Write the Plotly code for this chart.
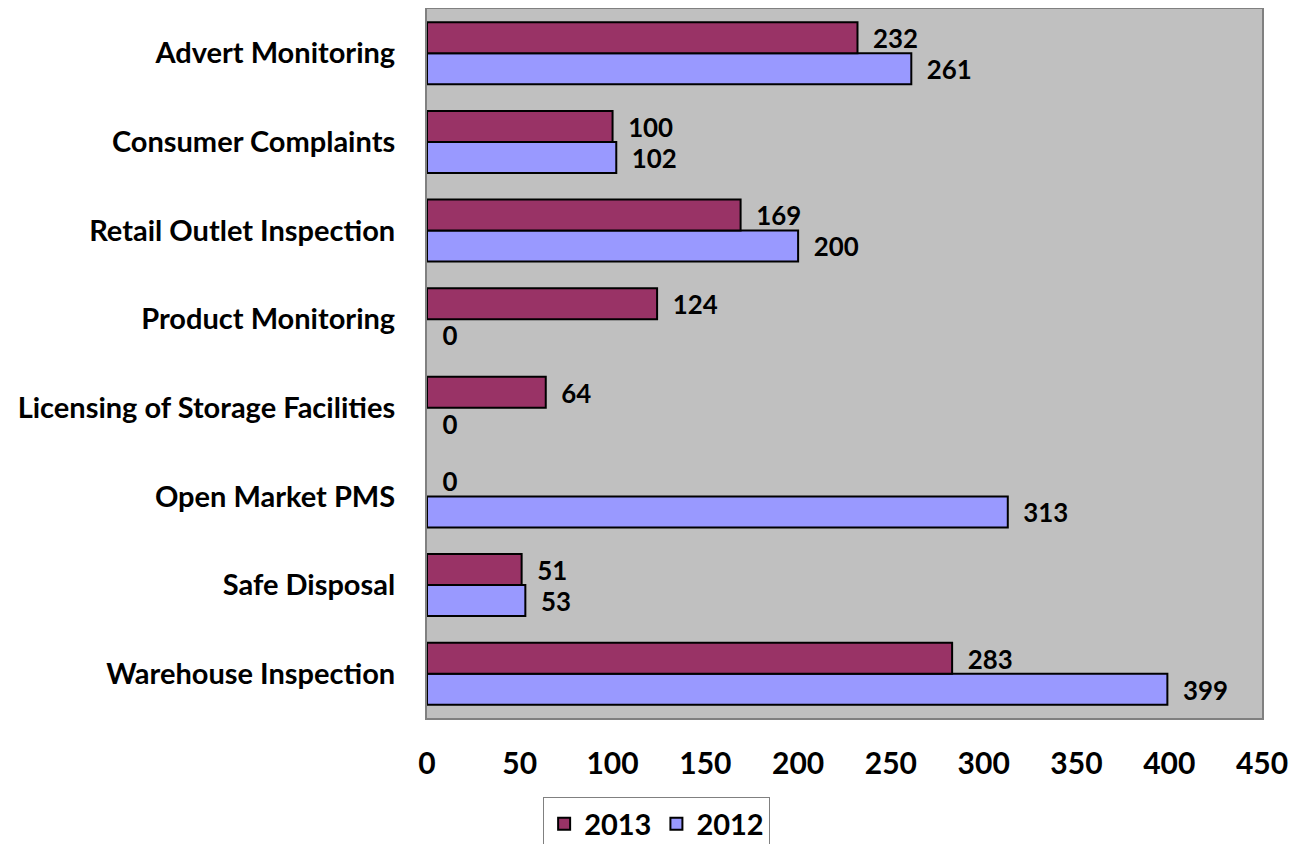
import plotly.graph_objects as go

# categories listed bottom -> top
categories = ['Warehouse Inspection', 'Safe Disposal', 'Open Market PMS',
              'Licensing of Storage Facilities', 'Product Monitoring',
              'Retail Outlet Inspection', 'Consumer Complaints', 'Advert Monitoring']
values_2013 = [283, 51, 0, 64, 124, 169, 100, 232]
values_2012 = [399, 53, 313, 0, 0, 200, 102, 261]
x_ticks = [0, 50, 100, 150, 200, 250, 300, 350, 400, 450]

FONT = 'Lato'
SIZE = 30
pad = '\u00a0' * 2

fig = go.Figure()

# 2012 first so it sits below 2013 within each group
# (no outline on zero-length bars)
fig.add_trace(go.Bar(
    y=categories, x=values_2012, name='2012', orientation='h',
    marker=dict(color='#9999FF',
                line=dict(color='black', width=[2 if v else 0 for v in values_2012])),
    text=[pad + str(v) for v in values_2012], textposition='outside',
    textfont=dict(family=FONT, size=SIZE, color='black'),
    cliponaxis=False
))
fig.add_trace(go.Bar(
    y=categories, x=values_2013, name='2013', orientation='h',
    marker=dict(color='#993366',
                line=dict(color='black', width=[2 if v else 0 for v in values_2013])),
    text=[pad + str(v) for v in values_2013], textposition='outside',
    textfont=dict(family=FONT, size=SIZE, color='black'),
    cliponaxis=False
))

# page body adds an 8px offset, so margins are shifted by that
fig.update_layout(
    barmode='group',
    bargap=0.3,
    bargroupgap=0,
    width=1305, height=844,
    margin=dict(l=419, r=51, t=1, b=134, autoexpand=False),
    plot_bgcolor='#C0C0C0',
    paper_bgcolor='white',
    font=dict(family=FONT, size=SIZE, color='black', weight='bold'),
    uniformtext=dict(mode='show', minsize=10),
    xaxis=dict(
        range=[0, 450], tickvals=x_ticks, showgrid=False, zeroline=False,
        showline=True, linecolor='#808080', linewidth=2, mirror=True,
        tickfont=dict(family=FONT, size=SIZE, weight='bold'),
        ticks='', ticklabelstandoff=18, automargin=False
    ),
    yaxis=dict(
        categoryorder='array', categoryarray=categories,
        showgrid=False, zeroline=False,
        showline=True, linecolor='#808080', linewidth=2, mirror=True,
        tickfont=dict(family=FONT, size=29, weight='bold'),
        ticks='', ticklabelstandoff=24, automargin=False
    ),
    legend=dict(
        orientation='h', traceorder='reversed',
        x=0.275, xanchor='center', y=-0.112, yanchor='top',
        bordercolor='#808080', borderwidth=1, bgcolor='white',
        font=dict(family=FONT, size=SIZE - 1, weight='bold'),
        itemwidth=30
    ),
    showlegend=True
)

fig.write_html('out.html')
